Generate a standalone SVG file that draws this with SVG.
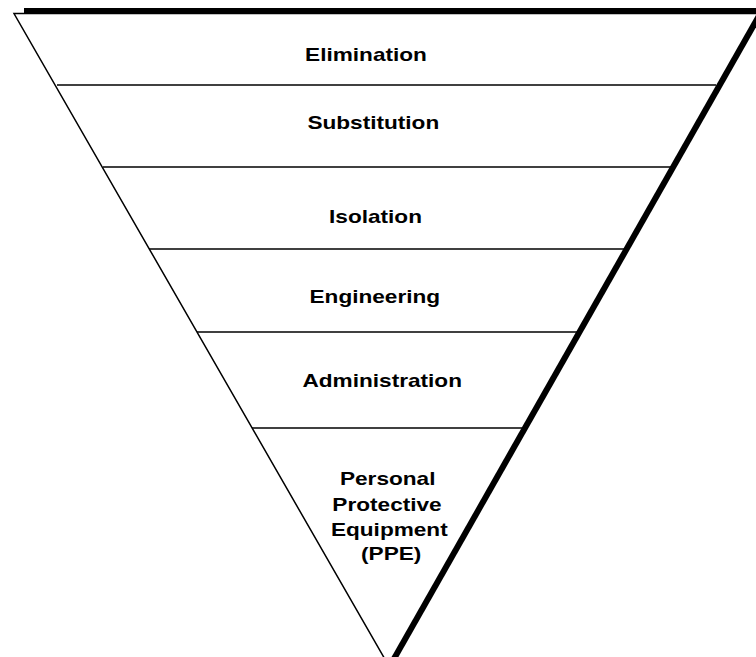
<svg xmlns="http://www.w3.org/2000/svg" width="756" height="657" viewBox="0 0 756 657">
<style>
.thin{stroke:#000;stroke-width:1.5;fill:none}
.thick{stroke:#000;stroke-width:6;fill:none}
.lbl{font-family:"Liberation Sans",Arial,sans-serif;font-weight:bold;font-size:19px;fill:#000;text-anchor:middle}
</style>
<rect width="756" height="657" fill="#fff"/>
<g id="shape">
<polyline class="thin" points="758,13.5 14,13.5 390,668"/>
<line class="thick" x1="24" y1="11" x2="760" y2="11"/>
<line class="thick" x1="759.5" y1="15" x2="391" y2="664"/>
</g>
<g id="connectors">
<line class="thin" x1="57" y1="85" x2="716" y2="85"/>
<line class="thin" x1="103" y1="167" x2="671" y2="167"/>
<line class="thin" x1="149" y1="249" x2="624" y2="249"/>
<line class="thin" x1="197" y1="332" x2="577" y2="332"/>
<line class="thin" x1="252" y1="428" x2="522" y2="428"/>
</g>
<g id="elimination"><text class="lbl" transform="translate(366,61) scale(1.19,1)">Elimination</text></g>
<g id="substitution"><text class="lbl" transform="translate(373.3,129) scale(1.19,1)">Substitution</text></g>
<g id="isolation"><text class="lbl" transform="translate(375.5,223.3) scale(1.19,1)">Isolation</text></g>
<g id="engineering"><text class="lbl" transform="translate(374.8,302.7) scale(1.19,1)">Engineering</text></g>
<g id="administration"><text class="lbl" transform="translate(382.2,387.3) scale(1.19,1)">Administration</text></g>
<g id="ppe">
<text class="lbl" transform="translate(387.7,485) scale(1.19,1)">Personal</text>
<text class="lbl" transform="translate(387,511) scale(1.19,1)">Protective</text>
<text class="lbl" transform="translate(389.3,536) scale(1.19,1)">Equipment</text>
<text class="lbl" transform="translate(391.2,559.5) scale(1.19,1)">(PPE)</text>
</g>
</svg>
